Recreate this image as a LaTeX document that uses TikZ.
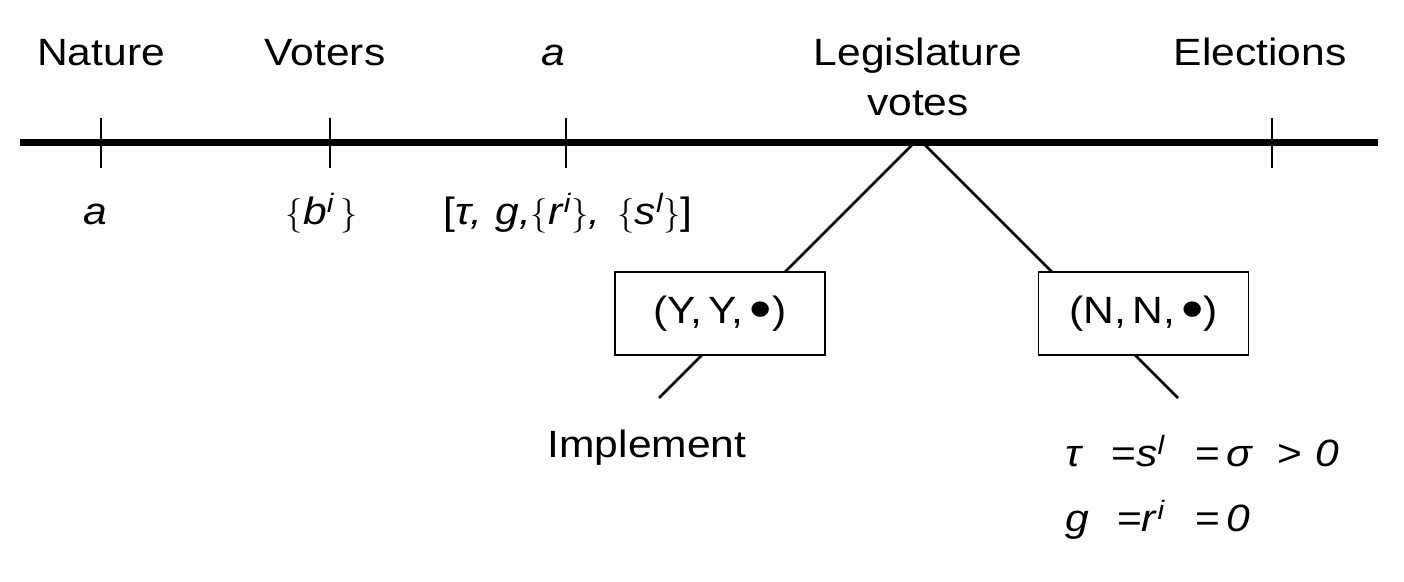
\documentclass[tikz,border=0pt]{standalone}
\usepackage{fontspec}
\setmainfont[FakeStretch=1.12]{Liberation Sans}
\newcommand\supit[1]{\textsuperscript{\itshape #1}}
\newcommand\bigdot{\raisebox{-0.25ex}{\scalebox{1.5}{•}}}
\begin{document}
\begin{tikzpicture}[x=0.5pt,y=-0.5pt,
  lbl/.style={font=\fontsize{19}{22}\selectfont, inner sep=0pt, anchor=base},
  eq/.style={font=\fontsize{19}{22}\selectfont, inner sep=0pt, anchor=base west},
  tickline/.style={line width=1pt},
  branch/.style={line width=1.4pt},
  choice/.style={draw, line width=0.9pt, fill=white, minimum width=105pt, minimum height=41.5pt, inner sep=0pt, font=\fontsize{19}{22}\selectfont}]
\useasboundingbox (0,0) rectangle (1404,582);
% time line
\coordinate (L) at (20,143);
\coordinate (R) at (1378,143);
\draw[line width=3.5pt] (L) -- (R);
% ticks
\coordinate (t1a) at (101,118); \coordinate (t1b) at (101,168);
\coordinate (t2a) at (330,118); \coordinate (t2b) at (330,168);
\coordinate (t3a) at (566,118); \coordinate (t3b) at (566,168);
\coordinate (t4a) at (1272,118); \coordinate (t4b) at (1272,168);
\draw[tickline] (t1a) -- (t1b);
\draw[tickline] (t2a) -- (t2b);
\draw[tickline] (t3a) -- (t3b);
\draw[tickline] (t4a) -- (t4b);
% top labels
\node[lbl] (nature) at (101,66) {Nature};
\node[lbl] (voters) at (325,66) {Voters};
\node[lbl] (atop) at (553,66) {\itshape a};
\node[lbl] (legis) at (918,66) {Legislature};
\node[lbl] (votes) at (918,116) {votes};
\node[lbl] (elect) at (1260,66) {Elections};
% bottom labels
\node[lbl] (abot) at (95,225) {\itshape a};
\node[lbl] (bi) at (322,225) {$\{$\textit{b}\supit{i}\,$\}$};
\node[lbl] (vec) at (568,225) {[\textit{τ,\,\,g,}$\{$\textit{r}\supit{i}$\}$\textit{,}\;\,$\{$\textit{s}\supit{l}$\}$]};
% branches
\coordinate (bl) at (912,145);
\coordinate (blend) at (659,398);
\coordinate (br) at (925,145);
\coordinate (brend) at (1178,398);
\draw[branch] (bl) -- (blend);
\draw[branch] (br) -- (brend);
\node[choice] (yy) at (720,313.5) {(Y,\,Y,\,\bigdot)};
\node[choice] (nn) at (1143.5,313.5) {(N,\,N,\,\bigdot)};
% outcomes
\node[lbl] (impl) at (647,458) {Implement};
\node[eq] (eq1) at (1065,467) {\textit{τ}\hspace{14pt}=\textit{s}\supit{l}\hspace{15pt}=\hspace{3pt}\textit{σ}\hspace{12pt}>\hspace{7pt}\textit{0}};
\node[eq] (eq2) at (1065,532) {\textit{g}\hspace{14pt}=\textit{r}\supit{i}\hspace{15pt}=\hspace{3pt}\textit{0}};
\end{tikzpicture}
\end{document}
